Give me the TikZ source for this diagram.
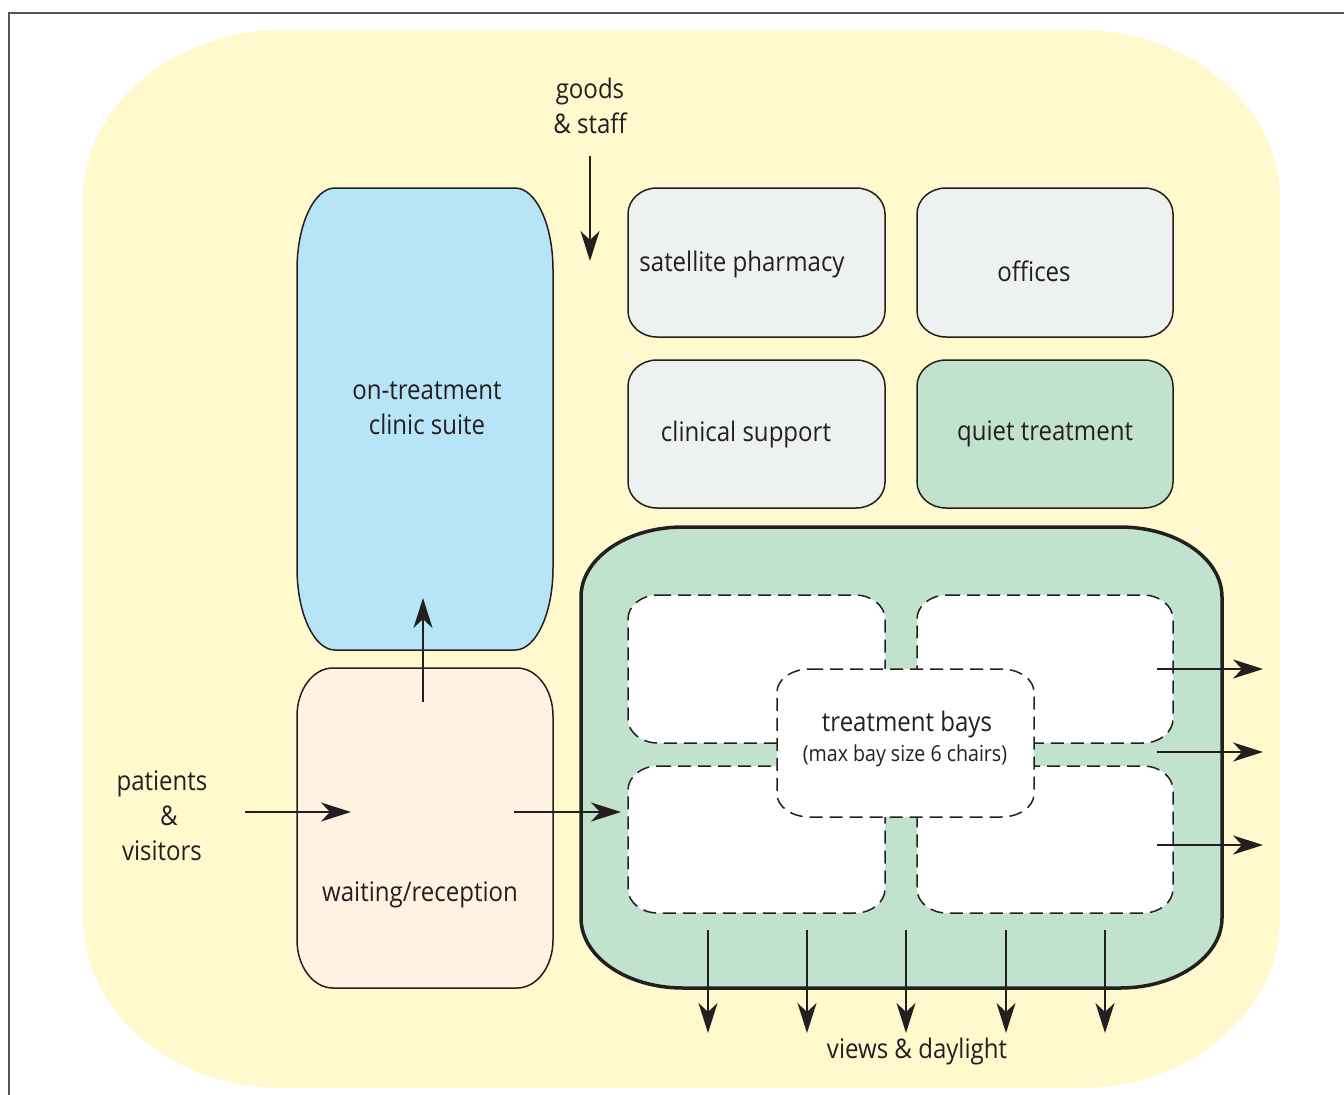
\documentclass[tikz,border=0pt]{standalone}
\usepackage{fontspec}
\setmainfont[FakeStretch=0.89]{Open Sans}
\usetikzlibrary{arrows.meta}
\definecolor{yellowbg}{RGB}{255,249,205}
\definecolor{bluebox}{RGB}{184,228,248}
\definecolor{peachbox}{RGB}{255,242,226}
\definecolor{graybox}{RGB}{237,241,239}
\definecolor{greenbox}{RGB}{193,226,204}
\definecolor{ink}{RGB}{35,31,32}
\definecolor{framegray}{RGB}{85,85,85}
% elliptical rounded rectangle: style, x1, y1, x2, y2, rx, ry
\newcommand\ERect[7]{%
\path[#1] ({#2+#6},#3) -- ({#4-#6},#3)
 .. controls ({#4-0.4477*#6},#3) and (#4,{#3+0.4477*#7}) .. (#4,{#3+#7})
 -- (#4,{#5-#7})
 .. controls (#4,{#5-0.4477*#7}) and ({#4-0.4477*#6},#5) .. ({#4-#6},#5)
 -- ({#2+#6},#5)
 .. controls ({#2+0.4477*#6},#5) and (#2,{#5-0.4477*#7}) .. (#2,{#5-#7})
 -- (#2,{#3+#7})
 .. controls (#2,{#3+0.4477*#7}) and ({#2+0.4477*#6},#3) .. ({#2+#6},#3)
 -- cycle;}
\begin{document}
\begin{tikzpicture}[x=1pt,y=-1pt,
  box/.style={draw=ink,line width=1.5pt},
  baybox/.style={draw=ink,fill=white,line width=1.5pt,dash pattern=on 13pt off 7pt},
  lbl/.style={text=ink,font=\fontsize{27}{35}\selectfont,align=center,inner sep=0pt},
  small/.style={text=ink,font=\fontsize{22}{26}\selectfont,align=center,inner sep=0pt},
  arr/.style={draw=ink,line width=2pt,-{Stealth[length=30pt,width=19pt,inset=9pt]}}]
\useasboundingbox (0,0) rectangle (1344,1095);
\fill[white] (0,0) rectangle (1344,1095);
\ERect{fill=yellowbg}{83}{30}{1280}{1088}{200}{170}
\draw[framegray,line width=1.5pt] (9,1095) -- (9,13) -- (1344,13);
% left column
\ERect{box,fill=bluebox}{297}{188}{553}{650}{38}{82}
\ERect{box,fill=peachbox}{297}{668}{553}{988}{36}{48}
% top right blocks
\ERect{box,fill=graybox}{628}{188}{885}{337}{29}{26}
\ERect{box,fill=graybox}{917}{188}{1173}{337}{29}{26}
\ERect{box,fill=graybox}{628}{360}{885}{508}{29}{26}
\ERect{box,fill=greenbox}{917}{360}{1173}{508}{29}{26}
% treatment area
\ERect{draw=ink,fill=greenbox,line width=3.5pt}{581}{527}{1222}{988}{102}{70}
\ERect{baybox}{628}{595}{885}{743}{30}{24}
\ERect{baybox}{917}{595}{1173}{743}{30}{24}
\ERect{baybox}{628}{766}{885}{913}{30}{24}
\ERect{baybox}{917}{766}{1173}{913}{30}{24}
\ERect{baybox}{777}{669}{1034}{817}{33}{23}
% labels
\node[lbl] (goods) at (590,106) {goods\\\& staff};
\node[lbl] (patients) at (162,816) {patients\\\hspace*{14pt}\&\\visitors};
\node[lbl] (clinic) at (427,408) {on-treatment\\clinic suite};
\node[lbl] (pharmacy) at (742,264) {satellite pharmacy};
\node[lbl] (offices) at (1034,271) {offices};
\node[lbl] (support) at (746,434) {clinical support};
\node[lbl] (quiet) at (1045,434) {quiet treatment};
\node[lbl] (bays) at (907,724) {treatment bays};
\node[small] (maxbay) at (905,756) {(max bay size 6 chairs)};
\node[lbl] (waiting) at (420,895) {waiting/reception};
\node[lbl] (views) at (917,1051) {views \& daylight};
% arrow end points
\coordinate (g1) at (590,156); \coordinate (g2) at (590,261);
\coordinate (p1) at (245,812); \coordinate (p2) at (351,812);
\coordinate (w1) at (514,812); \coordinate (w2) at (621,812);
\coordinate (c1) at (423,702); \coordinate (c2) at (423,598);
\foreach \i/\y in {1/669,2/752,3/845}{
  \coordinate (r\i a) at (1157,\y); \coordinate (r\i b) at (1263,\y);}
\foreach \i/\x in {1/708,2/807,3/906,4/1006,5/1105}{
  \coordinate (d\i a) at (\x,930); \coordinate (d\i b) at (\x,1033);}
\draw[arr] (g1) -- (g2);
\draw[arr] (p1) -- (p2);
\draw[arr] (w1) -- (w2);
\draw[arr] (c1) -- (c2);
\foreach \i in {1,2,3}{\draw[arr] (r\i a) -- (r\i b);}
\foreach \i in {1,...,5}{\draw[arr] (d\i a) -- (d\i b);}
\end{tikzpicture}
\end{document}
